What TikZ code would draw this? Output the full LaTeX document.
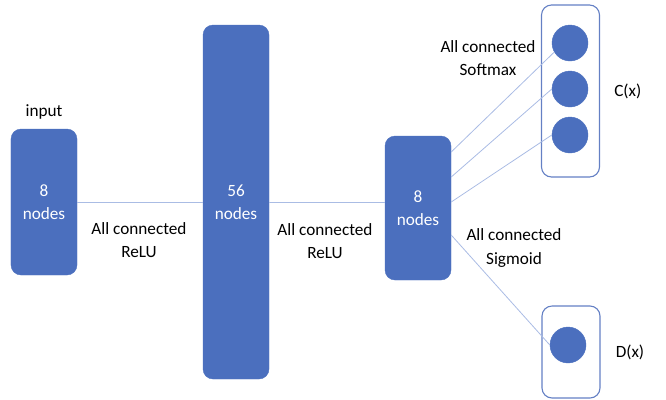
\documentclass[tikz,border=0pt]{standalone}
\usepackage{fontspec}
\setmainfont{Carlito}
\usetikzlibrary{positioning}
\definecolor{boxblue}{RGB}{75,111,190}
\definecolor{linkblue}{RGB}{170,188,228}
\definecolor{edgeblue}{RGB}{100,128,196}

\begin{document}
\begin{tikzpicture}[
            x=1bp, y=-1bp,
            every node/.style={font=\fontsize{17.2bp}{23.5bp}\selectfont, align=center, inner sep=0pt},
            layer/.style={fill=boxblue, draw=boxblue, rounded corners=10bp, text=white, minimum width=66bp},
            group/.style={draw=edgeblue, line width=1.1bp, rounded corners=10bp, minimum width=58bp},
            neuron/.style={circle, fill=boxblue, draw=boxblue, minimum size=36bp},
            link/.style={draw=linkblue, line width=0.8bp}
        ]
        \useasboundingbox (0,0) rectangle (666,399);

        % Layers
        \node[layer, minimum height=146bp] (in) at (44,202) {8\\nodes};
        \node[layer, minimum height=354bp] (hid) at (236,202) {56\\nodes};
        \node[layer, minimum height=144bp] (mid) at (418,208) {8\\nodes};

        % Output groups
        \node[group, minimum height=172bp] (cgrp) at (570.5,91) {};
        \node[neuron] (c1) at (570,43) {};
        \node[neuron] (c2) at (570,89) {};
        \node[neuron] (c3) at (570,135) {};
        \node[group, minimum height=92bp] (dgrp) at (571,352) {};
        \node[neuron] (d1) at (568,345) {};

        % Labels
        \node (inlbl) at (44,112) {input};
        \node (relu1) at (139,240) {All connected\\ReLU};
        \node (relu2) at (325,241) {All connected\\ReLU};
        \node (soft) at (488,58) {All connected\\Softmax};
        \node (sig) at (514,248) {All connected\\Sigmoid};
        \node[right=14bp of cgrp] (cx) {C(x)};
        \node[right=15bp of dgrp] (dx) {D(x)};

        % Connections
        \draw[link] (in.east) -- (hid.west);
        \draw[link] (hid.east) -- (hid.east -| mid.west);
        \draw[link] ([yshift=56bp]mid.east) -- (c1.210);
        \draw[link] ([yshift=31bp]mid.east) -- (c2.west);
        \draw[link] ([yshift=6bp]mid.east) -- (c3.west);
        \draw[link] ([yshift=-27bp]mid.east) -- (d1.west);
        \end{tikzpicture}
\end{document}
